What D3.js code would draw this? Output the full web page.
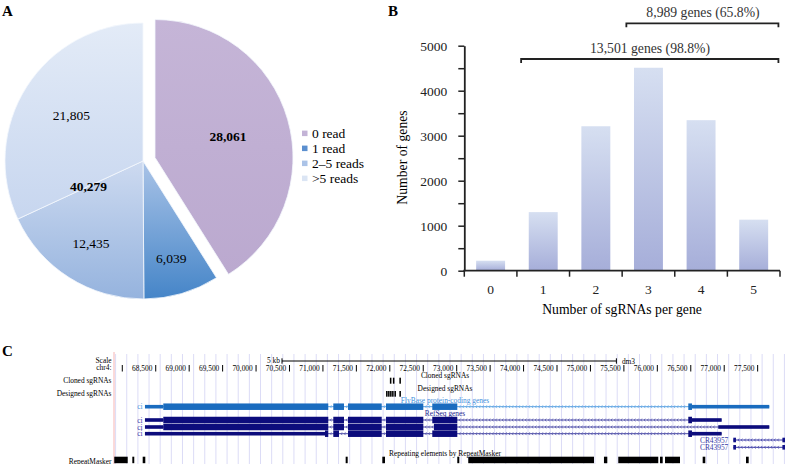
<!DOCTYPE html>
<html><head><meta charset="utf-8">
<script src="https://cdn.jsdelivr.net/npm/d3@7"></script>
<style>html,body{margin:0;padding:0;background:#fff;} svg{display:block;font-family:'Liberation Serif','Times New Roman',serif;}</style>
</head><body><svg id="c" width="785" height="464"></svg>
<script>
// ---------------- Panel A data ----------------
const pieCategories = ["0 read", "1 read", "2–5 reads", ">5 reads"];
const pieValues = [28061, 6039, 12435, 21805];
const pieValueLabels = ["28,061", "6,039", "12,435", "21,805"];
const pieBold = [true, false, false, false];
const pieGroupLabel = "40,279";

// ---------------- Panel B data ----------------
const barCategories = ["0", "1", "2", "3", "4", "5"];
const barValues = [222, 1302, 3210, 4510, 3345, 1134];
const yTickValues = [0, 500, 1000, 1500, 2000, 2500, 3000, 3500, 4000, 4500, 5000];
const yTickLabelValues = [0, 1000, 2000, 3000, 4000, 5000];
const bracketLabels = ["8,989 genes (65.8%)", "13,501 genes (98.8%)"];
const bracketFrom = ["3", "1"];
const bracketTo = ["5", "5"];
const xTitle = "Number of sgRNAs per gene";
const yTitle = "Number of genes";

// ---------------- Panel C data (chr4, bp) ----------------
const viewRange = [67876, 77909];
const scaleTickValues = [68000, 68500, 69000, 69500, 70000, 70500, 71000, 71500, 72000, 72500, 73000, 73500, 74000, 74500, 75000, 75500, 76000, 76500, 77000, 77500];
const scaleBarStart = 70388;
const scaleBarLength = 5000;
const clonedSgRNAs = [72010, 72055, 72152];
const designedSgRNAs = [71953, 71983, 72013, 72043, 72078, 72152];
const flyBaseTx = {name: "ci", cds: [68613, 76518],
  exons: [[68339, 71080], [71155, 71315], [71375, 71879], [71943, 72501], [72635, 73009], [76463, 77674]]};
const refSeqTx = [
  {name: "ci", cds: [68613, 76518], exons: [[68339, 71080], [71155, 71315], [71375, 71879], [71943, 72501], [72635, 73009], [76463, 76962]]},
  {name: "ci", cds: [68613, 73009], exons: [[68339, 71080], [71155, 71315], [71375, 71879], [71943, 72501], [72660, 73009], [76911, 77674]]},
  {name: "ci", cds: [71031, 76518], exons: [[68339, 71080], [71155, 71240], [71375, 71879], [71943, 72501], [72635, 73009], [76463, 76962]]}
];
const crTx = [
  {name: "CR43957", exons: [[77136, 77176], [77870, 77909]]},
  {name: "CR43957", exons: [[77136, 77176], [77870, 77909]]}
];
const repeatBlocks = [[67880, 68081], [68150, 68179], [68305, 68344], [71340, 71370], [71888, 71928], [73009, 73039], [73173, 75053], [75202, 75252], [75416, 76014], [76040, 76080], [76115, 76339], [76678, 76717], [77326, 77366]];
const leftLabels = ["Scale", "chr4:", "Cloned sgRNAs", "Designed sgRNAs", "RepeatMasker"];
const trackTitles = ["Cloned sgRNAs", "Designed sgRNAs", "FlyBase protein-coding genes", "RefSeq genes", "Repeating elements by RepeatMasker"];

const svg = d3.select("#c");
svg.append("rect").attr("width", 785).attr("height", 464).attr("fill", "#fff");
const defs = svg.append("defs");
function grad(id, c1, c2) {
  const g = defs.append("linearGradient").attr("id", id).attr("x1", 0).attr("y1", 0).attr("x2", 0).attr("y2", 1);
  g.append("stop").attr("offset", "0%").attr("stop-color", c1);
  g.append("stop").attr("offset", "100%").attr("stop-color", c2);
}
const pieGrad = [["#c5b5d7", "#bba9cf"], ["#a9c3e7", "#4585c8"], ["#cddaf0", "#95b3de"], ["#e3ebf7", "#c7d6ef"]];
pieGrad.forEach((c, i) => grad("pg" + i, c[0], c[1]));
grad("bg", "#d6dff1", "#a6aed9");

// panel letters
[["A", 2, 16], ["B", 388, 16], ["C", 2, 356]].forEach(d => {
  svg.append("text").attr("x", d[1]).attr("y", d[2]).attr("font-size", 15).attr("font-weight", "bold").text(d[0]);
});

// ---------------- Panel A ----------------
const cx = 143, cy = 161, R = 138, explode = 12.5;
const arcs = d3.pie().sort(null).value(d => d)(pieValues);
const arc = d3.arc().innerRadius(0).outerRadius(R);
const pa = svg.append("g");
const labR = [76, 101, 97, 85];
arcs.forEach((a, i) => {
  const mid = (a.startAngle + a.endAngle) / 2;
  const off = i === 0 ? explode : 0;
  const ox = cx + Math.sin(mid) * off, oy = cy - Math.cos(mid) * off;
  const g = pa.append("g").attr("transform", `translate(${ox},${oy})`);
  g.append("path").attr("d", arc(a)).attr("fill", `url(#pg${i})`).attr("stroke", "#f4f7fc").attr("stroke-width", 0.8);
});
arcs.forEach((a, i) => {
  const mid = (a.startAngle + a.endAngle) / 2;
  const off = i === 0 ? explode : 0;
  const ox = cx + Math.sin(mid) * off, oy = cy - Math.cos(mid) * off;
  pa.append("text").attr("x", ox + Math.sin(mid) * labR[i]).attr("y", oy - Math.cos(mid) * labR[i])
    .attr("dy", "0.35em").attr("text-anchor", "middle").attr("font-size", 13.5)
    .attr("font-weight", pieBold[i] ? "bold" : "normal").text(pieValueLabels[i]);
});
{
  const ang = arcs[2].endAngle, r = 60;
  pa.append("text").attr("x", cx + Math.sin(ang) * r).attr("y", cy - Math.cos(ang) * r)
    .attr("dy", "0.35em").attr("text-anchor", "middle").attr("font-size", 13.5).attr("font-weight", "bold").text(pieGroupLabel);
}
// legend
const legendColors = ["#c3b3d6", "#5b8fcf", "#abc3e7", "#dbe5f4"];
const lg = svg.append("g");
pieCategories.forEach((c, i) => {
  const yy = 133.3 + i * 15;
  lg.append("rect").attr("x", 302).attr("y", yy - 2.7).attr("width", 5.5).attr("height", 5.5).attr("fill", legendColors[i]);
  lg.append("text").attr("x", 312).attr("y", yy).attr("dy", "0.35em").attr("font-size", 13.5).text(c);
});

// ---------------- Panel B ----------------
const y = d3.scaleLinear().domain([0, 5000]).range([270.7, 45.7]);
const x = d3.scaleBand().domain(barCategories).range([464.3, 780]).paddingInner(0.45).paddingOuter(0.225);
const pb = svg.append("g");
pb.selectAll("rect.bar").data(barValues).join("rect").attr("class", "bar")
  .attr("x", (d, i) => x(barCategories[i])).attr("width", x.bandwidth())
  .attr("y", d => y(d)).attr("height", d => y(0) - y(d)).attr("fill", "url(#bg)");
const yAxis = pb.append("g").attr("transform", "translate(464.3,0)")
  .call(d3.axisLeft(y).tickValues(yTickValues).tickSizeInner(6).tickSizeOuter(0).tickPadding(11)
    .tickFormat(d => yTickLabelValues.includes(d) ? String(d) : ""));
yAxis.select(".domain").attr("stroke", "#222").attr("stroke-width", 1.8);
yAxis.selectAll(".tick line").attr("stroke", "#222").attr("stroke-width", 1.5);
yAxis.selectAll("text").attr("font-size", 13.5).attr("font-family", "'Liberation Serif','Times New Roman',serif").attr("fill", "#222");
const xAxis = pb.append("g").attr("transform", `translate(0,${y(0)})`)
  .call(d3.axisBottom(x).tickSize(0).tickPadding(14));
xAxis.select(".domain").remove();
xAxis.selectAll("text").attr("font-size", 13.5).attr("font-family", "'Liberation Serif','Times New Roman',serif").attr("fill", "#222");
pb.append("line").attr("x1", x.range()[0] - 0.9).attr("x2", x.range()[1]).attr("y1", y(0)).attr("y2", y(0)).attr("stroke", "#222").attr("stroke-width", 1.8);
const bnds = barCategories.map(c => x(c) - x.paddingInner() * x.step() / 2).concat([x.range()[1]]);
pb.selectAll("line.xt").data(bnds).join("line").attr("class", "xt")
  .attr("x1", d => d).attr("x2", d => d).attr("y1", y(0)).attr("y2", y(0) + 6).attr("stroke", "#222").attr("stroke-width", 1.5);
pb.append("text").attr("x", 622).attr("y", 314).attr("text-anchor", "middle").attr("font-size", 13.7).text(xTitle);
pb.append("text").attr("transform", "translate(407,157.5) rotate(-90)").attr("text-anchor", "middle").attr("font-size", 13.7).text(yTitle);
// brackets
const bracketY = [23.3, 59];
bracketLabels.forEach((lab, i) => {
  const x1 = x(bracketFrom[i]) + x.bandwidth() / 2 - 0.42 * x.step();
  const x2 = x(bracketTo[i]) + x.bandwidth() / 2 + 0.47 * x.step();
  const by = bracketY[i];
  pb.append("path").attr("d", `M${x1},${by + 4}V${by}H${x2}V${by + 4}`).attr("fill", "none").attr("stroke", "#222").attr("stroke-width", 1.8);
  pb.append("text").attr("x", i === 0 ? 703 : 650).attr("y", by - 11).attr("dy", "0.35em").attr("text-anchor", "middle").attr("font-size", 13.7).attr("fill", "#333").text(lab);
});

// ---------------- Panel C ----------------
const gx = d3.scaleLinear().domain(viewRange).range([114, 785]);
const pc = svg.append("g");
// guidelines
d3.range(115.6, 785, gx(68066.67) - gx(67900)).forEach(xx => {
  pc.append("line").attr("x1", xx).attr("x2", xx).attr("y1", 354).attr("y2", 464).attr("stroke", "#dcdcf6").attr("stroke-width", 1);
});
pc.append("line").attr("x1", 114).attr("x2", 114).attr("y1", 352).attr("y2", 464).attr("stroke", "#f6b4b4").attr("stroke-width", 1);
const fs = 7.4;
// left labels
const leftY = [360.7, 367.7, 380.7, 393.3, 461.7];
leftLabels.forEach((l, i) => {
  pc.append("text").attr("x", 111.5).attr("y", leftY[i]).attr("dy", "0.35em").attr("text-anchor", "end").attr("font-size", fs).text(l);
});
// scale bar
const sb1 = gx(scaleBarStart), sb2 = gx(scaleBarStart + scaleBarLength);
pc.append("path").attr("d", `M${sb1},358.3V363.7M${sb1},361H${sb2}M${sb2},358.3V363.7`).attr("stroke", "#000").attr("stroke-width", 1).attr("fill", "none");
pc.append("text").attr("x", sb1 - 2).attr("y", 360.5).attr("dy", "0.35em").attr("text-anchor", "end").attr("font-size", fs).text("5 kb");
pc.append("text").attr("x", sb2 + 5.5).attr("y", 361.7).attr("dy", "0.35em").attr("font-size", fs).text("dm3");
// position ticks
scaleTickValues.forEach((t, i) => {
  pc.append("line").attr("x1", gx(t)).attr("x2", gx(t)).attr("y1", 365).attr("y2", 371.5).attr("stroke", "#000").attr("stroke-width", 1);
  if (i > 0) pc.append("text").attr("x", gx(t) - 3.3).attr("y", 368.3).attr("dy", "0.35em").attr("text-anchor", "end").attr("font-size", fs).text(d3.format(",")(t));
});
// track titles
const titleY = [375, 388, 400.7, 413.3, 453.3];
const titleCol = ["#000", "#000", "#3f8fdc", "#2a2a8f", "#000"];
trackTitles.forEach((t, i) => {
  pc.append("text").attr("x", 445).attr("y", titleY[i]).attr("dy", "0.35em").attr("text-anchor", "middle").attr("font-size", fs).attr("fill", titleCol[i]).text(t);
});
// sgRNAs
function marks(arr, y0, h) {
  arr.forEach(p => pc.append("rect").attr("x", gx(p) - 0.6).attr("y", y0).attr("width", Math.max(1.3, gx(p + 23) - gx(p))).attr("height", h).attr("fill", "#000"));
}
marks(clonedSgRNAs, 377.7, 6);
marks(designedSgRNAs, 391, 5.7);
// genes
const thickH = 6.5, thinH = 3.6;
function drawTx(tx, yc, col, introCol, labCol, labX, hasCds) {
  const exs = tx.exons;
  const s = exs[0][0], e = exs[exs.length - 1][1];
  pc.append("line").attr("x1", gx(s)).attr("x2", Math.min(gx(e), 785)).attr("y1", yc).attr("y2", yc).attr("stroke", introCol).attr("stroke-width", 1);
  for (let k = 0; k < exs.length - 1; k++) {
    const a = gx(exs[k][1]) + 2, b = gx(exs[k + 1][0]) - 2;
    for (let xx = a; xx < b; xx += 3.3) {
      pc.append("path").attr("d", `M${xx + 1.2},${yc - 1.4}L${xx},${yc}L${xx + 1.2},${yc + 1.4}`).attr("fill", "none").attr("stroke", introCol).attr("stroke-width", 0.7);
    }
  }
  exs.forEach(ex => {
    const segs = [];
    if (hasCds) {
      const cs = Math.max(ex[0], tx.cds[0]), ce = Math.min(ex[1], tx.cds[1]);
      if (ce > cs) {
        if (cs > ex[0]) segs.push([ex[0], cs, thinH]);
        segs.push([cs, ce, thickH]);
        if (ex[1] > ce) segs.push([ce, ex[1], thinH]);
      } else segs.push([ex[0], ex[1], thinH]);
    } else segs.push([ex[0], ex[1], 4.6]);
    segs.forEach(sg => {
      pc.append("rect").attr("x", gx(sg[0])).attr("width", Math.max(1, gx(sg[1]) - gx(sg[0])))
        .attr("y", yc - sg[2] / 2).attr("height", sg[2]).attr("fill", col);
    });
  });
  pc.append("text").attr("x", labX).attr("y", yc).attr("dy", "0.35em").attr("text-anchor", "end").attr("font-size", fs).attr("fill", labCol).text(tx.name);
}
drawTx(flyBaseTx, 406.7, "#1a6cbf", "#5aa2e2", "#4a94dc", 142.7, true);
const refY = [420, 427, 433.7];
refSeqTx.forEach((t, i) => drawTx(t, refY[i], "#0c0c7c", "#4a4aa6", "#3a3aa6", 142.7, true));
const crY = [440, 447.3];
crTx.forEach((t, i) => drawTx(t, crY[i], "#12128a", "#3c3ca6", "#3a3aa6", 728.3, false));
// RepeatMasker
repeatBlocks.forEach(b => {
  pc.append("rect").attr("x", gx(b[0])).attr("width", Math.max(1, gx(b[1]) - gx(b[0]))).attr("y", 456.7).attr("height", 6.5).attr("fill", "#000");
});
</script></body></html>
